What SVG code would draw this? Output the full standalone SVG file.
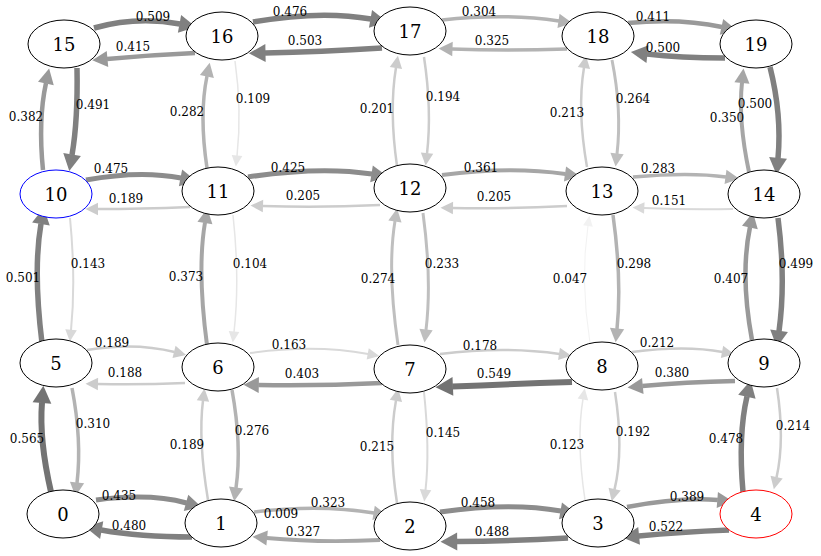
<svg xmlns="http://www.w3.org/2000/svg" width="821" height="556" viewBox="0 0 821 556">
<style>
.n ellipse{fill:#fff;stroke:#000;stroke-width:1}
.n text{font-family:"DejaVu Serif",serif;font-size:18px;text-anchor:middle;fill:#000}
.e path{fill:none}
.lb text{font-family:"DejaVu Serif",serif;font-size:12px;text-anchor:middle;fill:#000}
.c05{stroke:#f2f2f2;stroke-width:1;marker-end:url(#m05)}
.c10{stroke:#e6e6e6;stroke-width:1.5;marker-end:url(#m10)}
.c15{stroke:#d9d9d9;stroke-width:2;marker-end:url(#m15)}
.c20{stroke:#cccccc;stroke-width:2.5;marker-end:url(#m20)}
.c25{stroke:#bfbfbf;stroke-width:3;marker-end:url(#m25)}
.c30{stroke:#b3b3b3;stroke-width:3.5;marker-end:url(#m30)}
.c35{stroke:#a6a6a6;stroke-width:4;marker-end:url(#m35)}
.c40{stroke:#999999;stroke-width:4.5;marker-end:url(#m40)}
.c45{stroke:#8c8c8c;stroke-width:5;marker-end:url(#m45)}
.c50{stroke:#808080;stroke-width:5.5;marker-end:url(#m50)}
.c55{stroke:#737373;stroke-width:6;marker-end:url(#m55)}
</style>
<defs>
<marker id="m05" markerUnits="userSpaceOnUse" markerWidth="11" markerHeight="10" refX="0.5" refY="4.9" orient="auto" overflow="visible"><path d="M0,0L10.4,4.9L0,9.8z" fill="#f2f2f2"/></marker>
<marker id="m10" markerUnits="userSpaceOnUse" markerWidth="12" markerHeight="11" refX="0.5" refY="5.35" orient="auto" overflow="visible"><path d="M0,0L11.1,5.35L0,10.7z" fill="#e6e6e6"/></marker>
<marker id="m15" markerUnits="userSpaceOnUse" markerWidth="12" markerHeight="12" refX="0.5" refY="5.8" orient="auto" overflow="visible"><path d="M0,0L11.8,5.8L0,11.6z" fill="#d9d9d9"/></marker>
<marker id="m20" markerUnits="userSpaceOnUse" markerWidth="13" markerHeight="13" refX="0.5" refY="6.25" orient="auto" overflow="visible"><path d="M0,0L12.5,6.25L0,12.5z" fill="#cccccc"/></marker>
<marker id="m25" markerUnits="userSpaceOnUse" markerWidth="14" markerHeight="14" refX="0.5" refY="6.7" orient="auto" overflow="visible"><path d="M0,0L13.2,6.7L0,13.4z" fill="#bfbfbf"/></marker>
<marker id="m30" markerUnits="userSpaceOnUse" markerWidth="14" markerHeight="15" refX="0.5" refY="7.15" orient="auto" overflow="visible"><path d="M0,0L13.9,7.15L0,14.3z" fill="#b3b3b3"/></marker>
<marker id="m35" markerUnits="userSpaceOnUse" markerWidth="15" markerHeight="16" refX="0.5" refY="7.6" orient="auto" overflow="visible"><path d="M0,0L14.6,7.6L0,15.2z" fill="#a6a6a6"/></marker>
<marker id="m40" markerUnits="userSpaceOnUse" markerWidth="16" markerHeight="17" refX="0.5" refY="8.05" orient="auto" overflow="visible"><path d="M0,0L15.3,8.05L0,16.1z" fill="#999999"/></marker>
<marker id="m45" markerUnits="userSpaceOnUse" markerWidth="16" markerHeight="17" refX="0.5" refY="8.5" orient="auto" overflow="visible"><path d="M0,0L16,8.5L0,17z" fill="#8c8c8c"/></marker>
<marker id="m50" markerUnits="userSpaceOnUse" markerWidth="17" markerHeight="18" refX="0.5" refY="8.95" orient="auto" overflow="visible"><path d="M0,0L16.7,8.95L0,17.9z" fill="#808080"/></marker>
<marker id="m55" markerUnits="userSpaceOnUse" markerWidth="18" markerHeight="19" refX="0.5" refY="9.4" orient="auto" overflow="visible"><path d="M0,0L17.4,9.4L0,18.8z" fill="#737373"/></marker>
</defs>
<g id="connectors" class="e">
<path class="c50" d="M94,28Q137,16 180,24"/>
<path class="c40" d="M195,53Q150,55 107,59"/>
<path class="c50" d="M253,22Q320,10 371,19"/>
<path class="c50" d="M382,48Q320,52 265,53"/>
<path class="c30" d="M442,20Q505,13 559,21"/>
<path class="c30" d="M567,49Q505,51 452,49"/>
<path class="c40" d="M628,23Q680,18 722,27"/>
<path class="c50" d="M725,58Q680,58 647,54"/>
<path class="c40" d="M43,170Q38,120 46,83"/>
<path class="c50" d="M77,68Q78,120 72,155"/>
<path class="c30" d="M207,168Q199,115 207,76"/>
<path class="c10" d="M235,61Q242,110 237,156"/>
<path class="c20" d="M397,166Q389,110 396,67.5"/>
<path class="c20" d="M424,57Q432,110 427,153.6"/>
<path class="c20" d="M587,167Q577,110 584,67.5"/>
<path class="c25" d="M612,60Q622,110 617,154"/>
<path class="c35" d="M749,172Q738,120 742,82.5"/>
<path class="c50" d="M770,67Q782,115 778,158.3"/>
<path class="c45" d="M86,180Q140,170 181,178"/>
<path class="c20" d="M190,207Q140,209 97.5,209"/>
<path class="c45" d="M248,177Q320,166 372,174"/>
<path class="c20" d="M380,205Q320,208 262.5,206"/>
<path class="c35" d="M442,175Q510,166 565.5,174"/>
<path class="c20" d="M567,206Q505,209 452.5,208"/>
<path class="c15" d="M733,209Q690,210 643.8,208"/>
<path class="c30" d="M633,177Q690,172 726,177"/>
<path class="c50" d="M42,343Q33,270 41,223.6"/>
<path class="c15" d="M70,218Q76,280 71,330.2"/>
<path class="c35" d="M207,345Q197,270 205,222.5"/>
<path class="c10" d="M233,215Q240,280 234,332"/>
<path class="c25" d="M398,345Q387,270 395,221"/>
<path class="c25" d="M423,213Q432,280 426,330"/>
<path class="c05" d="M590,343Q580,280 588,225.5"/>
<path class="c30" d="M613,215Q622,280 617,329"/>
<path class="c40" d="M752,340Q740,275 750,227"/>
<path class="c50" d="M778,218Q786,280 779,331.3"/>
<path class="c20" d="M87,350Q135,342 174.5,352"/>
<path class="c20" d="M185,383Q140,385 97.5,384"/>
<path class="c15" d="M250,353Q315,344 368.2,354"/>
<path class="c40" d="M382,383Q320,386 258.3,385"/>
<path class="c20" d="M440,354Q505,346 559.5,354"/>
<path class="c55" d="M572,382Q510,384 452.4,386.5"/>
<path class="c20" d="M632,352Q685,345 722.5,352"/>
<path class="c40" d="M735,381Q685,382 642.3,386"/>
<path class="c55" d="M51,492Q39,440 42,402.6"/>
<path class="c30" d="M72,388Q82,440 77,483"/>
<path class="c20" d="M208,500Q198,440 203,400.5"/>
<path class="c30" d="M232,390Q242,445 236,488.1"/>
<path class="c20" d="M397,503Q388,445 396,400.4"/>
<path class="c15" d="M424,392Q430,450 425.5,490.2"/>
<path class="c10" d="M585,500Q576,440 583,399"/>
<path class="c20" d="M615,392Q624,450 614.5,489.6"/>
<path class="c50" d="M743,492Q738,435 747,396.3"/>
<path class="c20" d="M777,388Q785,440 776.5,477.6"/>
<path class="c45" d="M96,500Q150,493 186.5,503"/>
<path class="c50" d="M192,537Q140,537 101.2,530"/>
<path class="c30" d="M254,512Q320,504 374.1,513"/>
<path class="c35" d="M380,540Q320,543 266.6,538"/>
<path class="c45" d="M440,512Q510,502 561,511"/>
<path class="c50" d="M568,538Q510,541 456.7,541.5"/>
<path class="c40" d="M627,507Q680,497 717.8,500"/>
<path class="c50" d="M729,530Q680,532 638.6,536"/>
</g>
<g id="edge-labels" class="lb">
<text x="153" y="21">0.509</text>
<text x="133" y="51">0.415</text>
<text x="290" y="16">0.476</text>
<text x="305" y="45">0.503</text>
<text x="479" y="16">0.304</text>
<text x="492" y="45">0.325</text>
<text x="653" y="21">0.411</text>
<text x="663" y="52">0.500</text>
<text x="26" y="121">0.382</text>
<text x="93" y="109">0.491</text>
<text x="187" y="116">0.282</text>
<text x="253" y="103">0.109</text>
<text x="377" y="113">0.201</text>
<text x="443" y="101">0.194</text>
<text x="567" y="117">0.213</text>
<text x="633" y="103">0.264</text>
<text x="727" y="122">0.350</text>
<text x="755" y="108">0.500</text>
<text x="111" y="173">0.475</text>
<text x="126" y="203">0.189</text>
<text x="288" y="172">0.425</text>
<text x="303" y="200">0.205</text>
<text x="481" y="172">0.361</text>
<text x="494" y="201">0.205</text>
<text x="658" y="173">0.283</text>
<text x="669" y="205">0.151</text>
<text x="23" y="282">0.501</text>
<text x="88" y="268">0.143</text>
<text x="186" y="281">0.373</text>
<text x="250" y="268">0.104</text>
<text x="378" y="283">0.274</text>
<text x="442" y="268">0.233</text>
<text x="570" y="283">0.047</text>
<text x="634" y="268">0.298</text>
<text x="731" y="283">0.407</text>
<text x="796" y="268">0.499</text>
<text x="112" y="347">0.189</text>
<text x="125" y="377">0.188</text>
<text x="289" y="349">0.163</text>
<text x="302" y="378">0.403</text>
<text x="480" y="350">0.178</text>
<text x="494" y="378">0.549</text>
<text x="657" y="347">0.212</text>
<text x="672" y="377">0.380</text>
<text x="27" y="443">0.565</text>
<text x="93" y="428">0.310</text>
<text x="187" y="449">0.189</text>
<text x="252" y="435">0.276</text>
<text x="377" y="451">0.215</text>
<text x="443" y="437">0.145</text>
<text x="567" y="449">0.123</text>
<text x="633" y="436">0.192</text>
<text x="726" y="443">0.478</text>
<text x="793" y="430">0.214</text>
<text x="119" y="500">0.435</text>
<text x="129" y="530">0.480</text>
<text x="328" y="507">0.323</text>
<text x="281" y="518">0.009</text>
<text x="303" y="536">0.327</text>
<text x="478" y="507">0.458</text>
<text x="492" y="536">0.488</text>
<text x="687" y="501">0.389</text>
<text x="666" y="531">0.522</text>
</g>
<g id="node15" class="n"><ellipse cx="64" cy="44" rx="36" ry="24"/><text x="64" y="50.5">15</text></g>
<g id="node16" class="n"><ellipse cx="222" cy="36" rx="36" ry="24"/><text x="222" y="42.5">16</text></g>
<g id="node17" class="n"><ellipse cx="410" cy="31" rx="36" ry="24"/><text x="410" y="37.5">17</text></g>
<g id="node18" class="n"><ellipse cx="598" cy="36" rx="36" ry="24"/><text x="598" y="42.5">18</text></g>
<g id="node19" class="n"><ellipse cx="756" cy="44" rx="36" ry="24"/><text x="756" y="50.5">19</text></g>
<g id="node10" class="n"><ellipse cx="56" cy="194" rx="36" ry="24" style="stroke:#0000ff"/><text x="56" y="200.5">10</text></g>
<g id="node11" class="n"><ellipse cx="218" cy="191" rx="36" ry="24"/><text x="218" y="197.5">11</text></g>
<g id="node12" class="n"><ellipse cx="410" cy="188" rx="36" ry="24"/><text x="410" y="194.5">12</text></g>
<g id="node13" class="n"><ellipse cx="602" cy="191" rx="36" ry="24"/><text x="602" y="197.5">13</text></g>
<g id="node14" class="n"><ellipse cx="764" cy="194" rx="36" ry="24"/><text x="764" y="200.5">14</text></g>
<g id="node5" class="n"><ellipse cx="56" cy="363" rx="36" ry="24"/><text x="56" y="369.5">5</text></g>
<g id="node6" class="n"><ellipse cx="218" cy="367" rx="36" ry="24"/><text x="218" y="373.5">6</text></g>
<g id="node7" class="n"><ellipse cx="410" cy="369" rx="36" ry="24"/><text x="410" y="375.5">7</text></g>
<g id="node8" class="n"><ellipse cx="602" cy="366" rx="36" ry="24"/><text x="602" y="372.5">8</text></g>
<g id="node9" class="n"><ellipse cx="764" cy="363" rx="36" ry="24"/><text x="764" y="369.5">9</text></g>
<g id="node0" class="n"><ellipse cx="63" cy="514" rx="36" ry="24"/><text x="63" y="520.5">0</text></g>
<g id="node1" class="n"><ellipse cx="221" cy="523" rx="36" ry="24"/><text x="221" y="529.5">1</text></g>
<g id="node2" class="n"><ellipse cx="410" cy="526" rx="36" ry="24"/><text x="410" y="532.5">2</text></g>
<g id="node3" class="n"><ellipse cx="598" cy="523" rx="36" ry="24"/><text x="598" y="529.5">3</text></g>
<g id="node4" class="n"><ellipse cx="756" cy="514" rx="36" ry="24" style="stroke:#ff0000"/><text x="756" y="520.5">4</text></g>
</svg>
